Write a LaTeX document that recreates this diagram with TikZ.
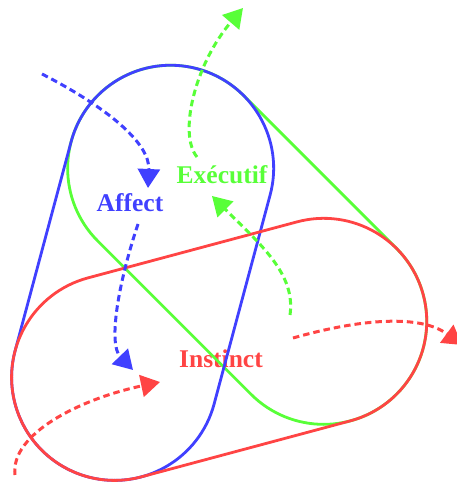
\documentclass[tikz,border=0pt]{standalone}
\usepackage{fontspec}
\setmainfont{Liberation Serif}
\usetikzlibrary{calc,arrows.meta}
\definecolor{affblue}{RGB}{64,64,255}
\definecolor{exegreen}{RGB}{88,255,56}
\definecolor{insred}{RGB}{255,68,68}
\begin{document}
\begin{tikzpicture}[x=1pt,y=1pt,
  outline/.style={line width=2.8pt},
  flow/.style={line width=3pt, dash pattern=on 6.5pt off 4pt,
    -{Triangle[length=19pt,width=22pt]}},
  label/.style={font=\fontsize{25.5}{30}\selectfont\bfseries,
    anchor=base, inner sep=0pt}]
\useasboundingbox (0,0) rectangle (456,484);
\def\rr{103}
% circle centres on an equilateral triangle
\coordinate (G) at (203,195);
\coordinate (A) at ($(G)+(105:125)$);
\coordinate (B) at ($(G)+(225:125)$);
\coordinate (C) at ($(G)+(345:125)$);

% labels
\node[label, text=affblue]  (aff) at (130,272) {Affect};
\node[label, text=exegreen] (exe) at (222,300) {Exécutif};
\node[label, text=insred]   (ins) at (221,116) {Instinct};

% executive stadium (A--C)
\draw[outline, exegreen] ($(A)+(45:\rr)$) -- ($(C)+(45:\rr)$)
  arc[start angle=45, end angle=-135, radius=\rr]
  -- ($(A)+(225:\rr)$) arc[start angle=225, end angle=45, radius=\rr] -- cycle;
% affect stadium (A--B)
\draw[outline, affblue] ($(A)+(165:\rr)$) -- ($(B)+(165:\rr)$)
  arc[start angle=165, end angle=345, radius=\rr]
  -- ($(A)+(345:\rr)$) arc[start angle=-15, end angle=165, radius=\rr] -- cycle;
% instinct stadium (B--C)
\draw[outline, insred] ($(B)+(105:\rr)$) -- ($(C)+(105:\rr)$)
  arc[start angle=105, end angle=-75, radius=\rr]
  -- ($(B)+(285:\rr)$) arc[start angle=285, end angle=105, radius=\rr] -- cycle;

% flow arrows
\coordinate (b1s) at (42,410);  \coordinate (b1e) at (148,296);
\coordinate (b2s) at (138,260); \coordinate (b2e) at (133,114);
\coordinate (g1s) at (197,327); \coordinate (g1e) at (243,476);
\coordinate (g2s) at (290,169); \coordinate (g2e) at (212,288);
\coordinate (r1s) at (15,9);    \coordinate (r1e) at (160,102);
\coordinate (r2s) at (293,146); \coordinate (r2e) at (462,139);

\draw[flow, affblue] (b1s) .. controls (110,375) and (150,340) .. (b1e);
\draw[flow, affblue] (b2s) .. controls (118,200) and (108,140) .. (b2e);
\draw[flow, exegreen] (g1s) .. controls (178,350) and (195,420) .. (g1e);
\draw[flow, exegreen] (g2s) .. controls (296,210) and (260,240) .. (g2e);
\draw[flow, insred] (r1s) .. controls (10,50) and (80,85) .. (r1e);
\draw[flow, insred] (r2s) .. controls (360,165) and (420,170) .. (r2e);
\end{tikzpicture}
\end{document}
